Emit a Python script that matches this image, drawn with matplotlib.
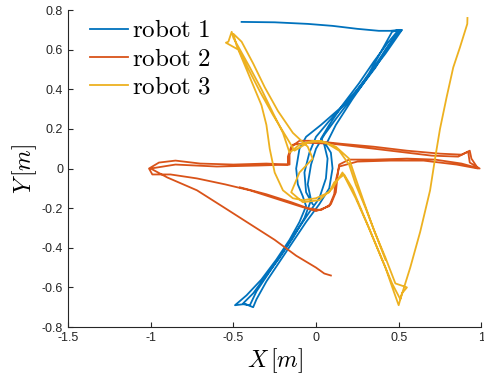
import matplotlib
matplotlib.use("Agg")
import matplotlib.pyplot as plt
from matplotlib.ticker import FuncFormatter

plt.rcParams["mathtext.fontset"] = "cm"
plt.rcParams["axes.unicode_minus"] = False
plt.rcParams["font.family"] = ["Liberation Sans", "DejaVu Sans"]

# MATLAB default line colours
C1, C2, C3 = "#0072BD", "#D95319", "#EDB120"
AX_GRAY = "#262626"

# ----------------------------
# Trajectories (metres)
# ----------------------------
robot1_x = [-0.45, -0.25, -0.05, 0.10, 0.25, 0.38, 0.45, 0.51,
            0.44, 0.36, 0.26, 0.14, 0.03, -0.06, -0.10, -0.12, -0.11, -0.08, -0.06,
            -0.10, -0.16, -0.24, -0.33, -0.42, -0.49, -0.44, -0.40,
            -0.36, -0.28, -0.20, -0.12, -0.04, 0.02, 0.06, 0.07, 0.05, 0.03,
            0.08, 0.16, 0.26, 0.35, 0.43, 0.50, 0.46,
            0.40, 0.32, 0.22, 0.12, 0.05, 0.00, -0.03, -0.05, -0.03,
            -0.07, -0.14, -0.22, -0.31, -0.38, -0.44, -0.38, -0.36,
            -0.30, -0.22, -0.14, -0.06, 0.02, 0.08, 0.10, 0.09, 0.06,
            0.12, 0.22, 0.32, 0.42, 0.50, 0.52,
            0.42, 0.30, 0.18, 0.08, 0.00, -0.04, -0.07, -0.06, -0.02]
robot1_y = [0.74, 0.738, 0.73, 0.72, 0.705, 0.695, 0.695, 0.70,
            0.62, 0.51, 0.40, 0.30, 0.22, 0.16, 0.10, 0.00, -0.08, -0.14, -0.19,
            -0.27, -0.36, -0.46, -0.56, -0.64, -0.69, -0.685, -0.69,
            -0.62, -0.52, -0.42, -0.32, -0.22, -0.15, -0.05, 0.05, 0.12, 0.15,
            0.22, 0.32, 0.43, 0.54, 0.63, 0.70, 0.69,
            0.60, 0.48, 0.36, 0.25, 0.17, 0.10, 0.02, -0.08, -0.16,
            -0.25, -0.35, -0.45, -0.55, -0.63, -0.68, -0.70, -0.66,
            -0.57, -0.47, -0.37, -0.27, -0.18, -0.10, 0.00, 0.08, 0.12,
            0.22, 0.35, 0.47, 0.60, 0.69, 0.70,
            0.58, 0.45, 0.33, 0.24, 0.16, 0.08, -0.02, -0.12, -0.18]

robot2_x = [-0.46, -0.30, -0.15, -0.05, 0.03, 0.09, 0.12, 0.13, 0.14,
            0.20, 0.35, 0.55, 0.72, 0.88, 0.99, 0.93, 0.92, 0.88,
            0.75, 0.55, 0.35, 0.15, -0.02, -0.10, -0.15, -0.17, -0.17,
            -0.30, -0.50, -0.70, -0.85, -0.95, -1.01, -0.99,
            -0.88, -0.72, -0.55, -0.40, -0.25, -0.10, 0.00, 0.08, 0.11, 0.12, 0.14,
            0.25, 0.45, 0.65, 0.85, 0.98, 0.94, 0.93, 0.86,
            0.70, 0.50, 0.30, 0.10, -0.05, -0.14, -0.16, -0.16,
            -0.35, -0.60, -0.85, -1.00,
            -0.90, -0.72, -0.55, -0.40, -0.25, -0.12, 0.00, 0.05, 0.09]
robot2_y = [-0.095, -0.13, -0.17, -0.20, -0.21, -0.18, -0.12, -0.04, 0.02,
            0.045, 0.045, 0.05, 0.045, 0.025, 0.00, 0.03, 0.085, 0.07,
            0.075, 0.09, 0.11, 0.125, 0.14, 0.14, 0.11, 0.06, 0.02,
            0.025, 0.02, 0.025, 0.04, 0.03, 0.00, -0.03,
            -0.03, -0.05, -0.08, -0.11, -0.15, -0.19, -0.215, -0.19, -0.13, -0.06, 0.01,
            0.035, 0.04, 0.04, 0.02, 0.00, 0.05, 0.09, 0.06,
            0.065, 0.085, 0.105, 0.125, 0.13, 0.12, 0.07, 0.02,
            0.015, 0.01, 0.02, 0.00,
            -0.045, -0.11, -0.20, -0.28, -0.36, -0.44, -0.50, -0.53, -0.54]

robot3_x = [0.42, 0.36, 0.30, 0.24, 0.20, 0.14, 0.06, -0.02, -0.10, -0.16,
            -0.20, -0.26, -0.33, -0.40, -0.46, -0.50, -0.51, -0.53, -0.545,
            -0.47, -0.40, -0.33, -0.30, -0.28, -0.25, -0.20, -0.14,
            -0.08, 0.00, 0.08, 0.11, 0.17,
            0.22, 0.28, 0.35, 0.42, 0.47, 0.50, 0.52, 0.55,
            0.48, 0.42, 0.35, 0.29, 0.24, 0.20, 0.12, 0.03, -0.05, -0.13,
            -0.18, -0.26, -0.34, -0.42, -0.48, -0.50,
            -0.45, -0.38, -0.31, -0.23, -0.14, -0.05, -0.02,
            -0.10, -0.15, -0.08, 0.02, 0.10, 0.16,
            0.24, 0.32, 0.40, 0.46, 0.51,
            0.57, 0.63, 0.69, 0.72, 0.75, 0.79, 0.83, 0.87, 0.90, 0.915, 0.916]
robot3_y = [-0.46, -0.33, -0.20, -0.08, 0.02, 0.09, 0.13, 0.14, 0.12, 0.08,
            0.18, 0.28, 0.40, 0.51, 0.60, 0.66, 0.69, 0.64, 0.635,
            0.60, 0.46, 0.32, 0.22, 0.10, -0.02, -0.11, -0.15,
            -0.16, -0.15, -0.12, -0.07, -0.03,
            -0.10, -0.22, -0.36, -0.50, -0.62, -0.69, -0.63, -0.60,
            -0.58, -0.45, -0.31, -0.17, -0.05, 0.05, 0.11, 0.14, 0.13, 0.09,
            0.16, 0.27, 0.39, 0.52, 0.62, 0.68,
            0.64, 0.53, 0.41, 0.29, 0.18, 0.11, 0.05,
            -0.02, -0.12, -0.17, -0.16, -0.10, -0.02,
            -0.15, -0.30, -0.46, -0.58, -0.66,
            -0.50, -0.32, -0.11, 0.05, 0.20, 0.36, 0.51, 0.61, 0.69, 0.73, 0.76]

labels = [r"$\mathrm{robot\ 1}$", r"$\mathrm{robot\ 2}$", r"$\mathrm{robot\ 3}$"]
x_ticks = [-1.5, -1, -0.5, 0, 0.5, 1]
y_ticks = [-0.8, -0.6, -0.4, -0.2, 0, 0.2, 0.4, 0.6, 0.8]

fig = plt.figure(figsize=(4.84, 3.81), dpi=100)
ax = fig.add_axes([0.1405, 0.1417, 0.854, 0.832])

ax.plot(robot1_x, robot1_y, color=C1, lw=1.3, label=labels[0])
ax.plot(robot2_x, robot2_y, color=C2, lw=1.3, label=labels[1])
ax.plot(robot3_x, robot3_y, color=C3, lw=1.3, label=labels[2])

ax.set_xlim(-1.5, 1)
ax.set_ylim(-0.8, 0.8)
ax.set_xticks(x_ticks)
ax.set_yticks(y_ticks)
ax.xaxis.set_major_formatter(FuncFormatter(lambda v, p: f"{v:g}"))
ax.yaxis.set_major_formatter(FuncFormatter(lambda v, p: f"{v:g}"))
ax.tick_params(direction="in", length=3.5, width=0.8, colors=AX_GRAY, labelsize=9)

for side in ("top", "right"):
    ax.spines[side].set_visible(False)
for side in ("left", "bottom"):
    ax.spines[side].set_color(AX_GRAY)
    ax.spines[side].set_linewidth(0.8)

ax.set_xlabel(r"$X\,[m]$", fontsize=17, labelpad=2)
ax.set_ylabel(r"$Y\,[m]$", fontsize=17, labelpad=2)

ax.legend(loc="upper left", bbox_to_anchor=(0.03, 1.005), frameon=False,
          fontsize=18, handlelength=1.5, handletextpad=0.15,
          labelspacing=0.17, borderaxespad=0)

fig.savefig("out.png", dpi=100)
